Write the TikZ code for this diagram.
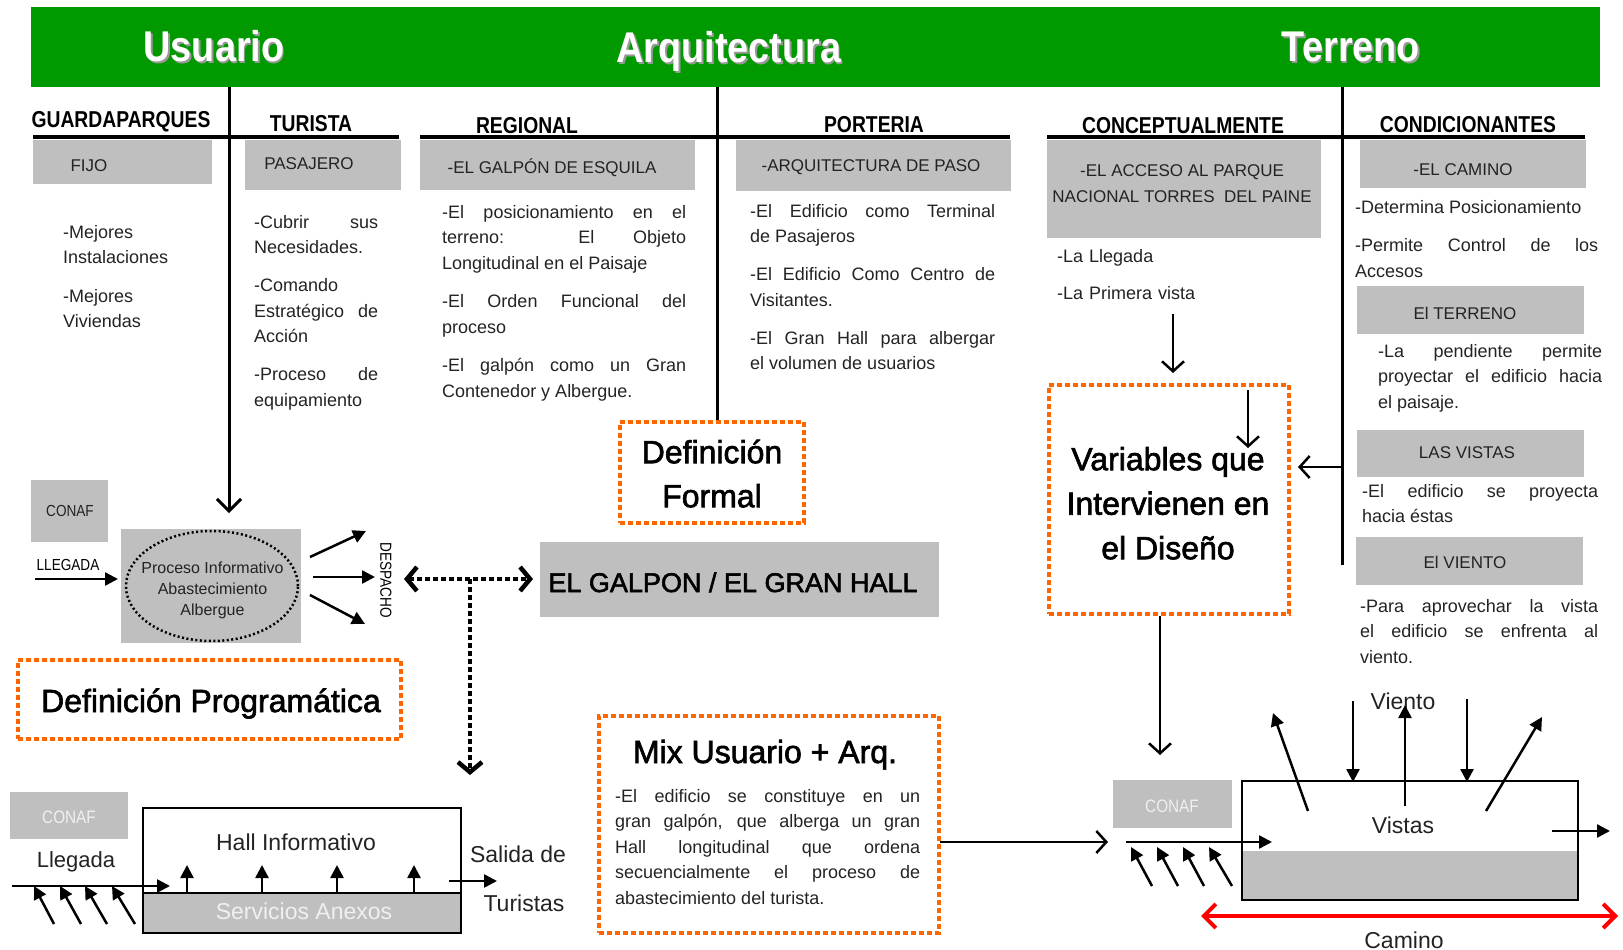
\documentclass[tikz,border=0pt]{standalone}
\usepackage{fontspec}
\setmainfont{Liberation Sans}
\newfontfamily\titlef{Liberation Sans}[FakeStretch=0.88]
\newfontfamily\headf{Liberation Sans}[FakeStretch=0.84]
\newfontfamily\narrowf{Liberation Sans}[FakeStretch=0.85]
\newfontfamily\bigf{Liberation Sans}[FakeBold=2]
\usetikzlibrary{arrows.meta,shapes.geometric}
\definecolor{greenbar}{RGB}{0,153,0}
\definecolor{boxgray}{RGB}{191,191,191}
\definecolor{orng}{RGB}{255,102,0}
\definecolor{txt}{RGB}{35,35,35}
\definecolor{lighttxt}{RGB}{240,240,240}
\definecolor{redc}{RGB}{255,0,0}
\newcommand\fsz[2]{\fontsize{#1}{#2}\selectfont}
\begin{document}
\begin{tikzpicture}[x=1pt,y=-1pt,
  gbox/.style={fill=boxgray,draw=none,inner sep=0pt,outer sep=0pt},
  obox/.style={draw=orng,line width=4pt,dash pattern=on 5pt off 3pt,inner sep=0pt},
  lbl/.style={inner sep=0pt,anchor=base,text=txt,font=\fsz{17}{20}},
  ttl/.style={inner sep=0pt,anchor=base,font=\titlef\bfseries\fsz{43}{46}},
  head/.style={inner sep=0pt,anchor=base,font=\headf\bfseries\fsz{23}{26}},
  body/.style={inner sep=0pt,anchor=north west,text=txt,font=\fsz{18}{25.5},align=justify},
  big/.style={inner sep=0pt,font=\bigf\fsz{32}{44},align=center},
  divline/.style={line width=3pt},
  uline/.style={line width=4pt},
  varrow/.style={line width=2.5pt,-{Straight Barb[length=10pt,width=22pt]}},
  farrow/.style={line width=2.5pt,-{Triangle[length=13pt,width=13pt]}},
  dotline/.style={line width=4.5pt,dash pattern=on 5pt off 3pt},
]
\useasboundingbox (0,0) rectangle (1623,950);

% ---------- green title bar ----------
\node[fill=greenbar,minimum width=1569pt,minimum height=80pt,inner sep=0pt] (bar) at (815.5,47) {};
\node[ttl,text=black!40] (tusuS) at (215.5,63.5) {Usuario};
\node[ttl,text=white] (tusu) at (214,62) {Usuario};
\node[ttl,text=black!40] (tarqS) at (730.5,64.5) {Arquitectura};
\node[ttl,text=white] (tarq) at (729,63) {Arquitectura};
\node[ttl,text=black!40] (tterS) at (1352.5,63.5) {Terreno};
\node[ttl,text=white] (tter) at (1351,62) {Terreno};

% ---------- headers ----------
\node[head] (hguard) at (121,128) {GUARDAPARQUES};
\node[head] (htur) at (311,131) {TURISTA};
\node[head] (hreg) at (527,133) {REGIONAL};
\node[head] (hport) at (874,132) {PORTERIA};
\node[head] (hconc) at (1183,133) {CONCEPTUALMENTE};
\node[head] (hcond) at (1468,132) {CONDICIONANTES};

\coordinate (u1a) at (33,137);  \coordinate (u1b) at (399,137);
\coordinate (u2a) at (420,137); \coordinate (u2b) at (1010,137);
\coordinate (u3a) at (1047,137);\coordinate (u3b) at (1585,137);
\draw[uline] (u1a) -- (u1b);
\draw[uline] (u2a) -- (u2b);
\draw[uline] (u3a) -- (u3b);

% ---------- gray boxes ----------
\node[gbox,minimum width=179pt,minimum height=44pt] (bfijo) at (122.5,162) {};
\node[gbox,minimum width=156pt,minimum height=50pt] (bpas) at (323,165) {};
\node[gbox,minimum width=275pt,minimum height=50pt] (bgal) at (557.5,165) {};
\node[gbox,minimum width=275pt,minimum height=51pt] (barqp) at (873.5,165.5) {};
\node[gbox,minimum width=274pt,minimum height=98pt] (bacc) at (1184,189) {};
\node[gbox,minimum width=226pt,minimum height=48pt] (bcam) at (1473,164) {};
\node[gbox,minimum width=227pt,minimum height=48pt] (bter) at (1470.5,310) {};
\node[gbox,minimum width=227pt,minimum height=47pt] (bvis) at (1470.5,453.5) {};
\node[gbox,minimum width=227pt,minimum height=48pt] (bvie) at (1469.5,561) {};

\node[lbl] (lfijo) at (89,171) {FIJO};
\node[lbl] (lpas) at (309,169) {PASAJERO};
\node[lbl] (lgal) at (552,173) {-EL GALPÓN DE ESQUILA};
\node[lbl] (larq) at (871,171) {-ARQUITECTURA DE PASO};
\node[lbl] (lacc1) at (1182,176) {-EL ACCESO AL PARQUE};
\node[lbl] (lacc2) at (1182,202) {NACIONAL TORRES~~DEL PAINE};
\node[lbl] (lcam) at (1463,175) {-EL CAMINO};
\node[lbl] (lter) at (1465,319) {El TERRENO};
\node[lbl] (lvis) at (1467,458) {LAS VISTAS};
\node[lbl] (lvie) at (1465,568) {El VIENTO};

% ---------- body texts ----------
\node[body,align=left,text width=150pt] (tguard) at (63,220.15)
  {\strut-Mejores\\Instalaciones\\[13pt]-Mejores\\Viviendas};
\node[body,text width=124pt] (ttur) at (254,210.15)
  {\strut-Cubrir sus\linebreak Necesidades.\\[12.5pt]-Comando\\Estratégico de\linebreak Acción\\[12.5pt]-Proceso de\linebreak equipamiento};
\node[body,text width=244pt] (treg) at (442,200.15)
  {\strut-El posicionamiento en el\linebreak terreno: El Objeto\linebreak Longitudinal en el Paisaje\\[13pt]-El Orden Funcional del\linebreak proceso\\[13pt]-El galpón como un Gran\linebreak Contenedor y Albergue.};
\node[body,text width=245pt] (tport) at (750,199.15)
  {\strut-El Edificio como Terminal\linebreak de Pasajeros\\[12.5pt]-El Edificio Como Centro de\linebreak Visitantes.\\[12.5pt]-El Gran Hall para albergar\linebreak el volumen de usuarios};
\node[body,align=left,text width=250pt] (tconc) at (1057,244.15)
  {\strut-La Llegada\\[11.5pt]-La Primera vista};
\node[body,text width=243pt] (tcond1) at (1355,195.15)
  {\strut-Determina Posicionamiento\\[13pt]-Permite Control de los\linebreak Accesos};
\node[body,text width=224pt] (tcond2) at (1378,339.15)
  {\strut-La pendiente permite\linebreak proyectar el edificio hacia\linebreak el paisaje.};
\node[body,text width=236pt] (tcond3) at (1362,479.15)
  {\strut-El edificio se proyecta\linebreak hacia éstas};
\node[body,text width=238pt] (tcond4) at (1360,594.15)
  {\strut-Para aprovechar la vista\linebreak el edificio se enfrenta al\linebreak viento.};

% ---------- dividers ----------
\coordinate (d1a) at (229,87);  \coordinate (d1b) at (229,513);
\coordinate (d2a) at (717,87);  \coordinate (d2b) at (717,422);
\coordinate (d3a) at (1342,87); \coordinate (d3b) at (1342,565);
\draw[divline,-{Straight Barb[length=12pt,width=24pt]}] (d1a) -- (d1b);
\draw[divline] (d2a) -- (d2b);
\draw[divline] (d3a) -- (d3b);

% ---------- orange boxes ----------
\node[obox,minimum width=184pt,minimum height=101pt] (bdefF) at (712,472.5) {};
\node[big,anchor=north] (tdefF) at (712,432.2) {\strut Definición\\Formal};
\node[obox,minimum width=240pt,minimum height=229pt] (bvar) at (1169,499.5) {};
\node[big,anchor=north,font=\bigf\fsz{32}{44.5}] (tvar) at (1168,438.85) {\strut Variables que\\Intervienen en\\el Diseño};
\node[obox,minimum width=383pt,minimum height=79pt] (bdefP) at (209.5,699.5) {};
\node[big,anchor=base] (tdefP) at (211,712) {Definición Programática};
\node[obox,minimum width=340pt,minimum height=217pt] (bmix) at (769,824.5) {};
\node[big,anchor=base] (tmix) at (765,763) {Mix Usuario + Arq.};
\node[body,text width=305pt] (tmixb) at (615,784.15)
  {\strut-El edificio se constituye en un\linebreak gran galpón, que alberga un gran\linebreak Hall longitudinal que ordena\linebreak secuencialmente el proceso de\linebreak abastecimiento del turista.};

% ---------- process area ----------
\node[gbox,minimum width=77pt,minimum height=62pt] (bconaf1) at (69.5,511) {};
\node[inner sep=0pt,anchor=base,font=\narrowf\fsz{16}{19},text=txt] (lconaf1) at (70,516) {CONAF};
\node[inner sep=0pt,anchor=base,font=\narrowf\fsz{16}{19},text=black] (lllegada) at (68,570) {LLEGADA};
\coordinate (lla) at (35,579); \coordinate (llb) at (118,579);
\draw[farrow] (lla) -- (llb);

\node[gbox,minimum width=180pt,minimum height=114pt] (bproc) at (211,586) {};
\node[ellipse,draw,line width=2.5pt,dash pattern=on 2pt off 2.5pt,minimum width=172pt,minimum height=110pt,inner sep=0pt] (ell) at (212,586) {};
\node[inner sep=0pt,anchor=north,align=center,text=txt,font=\fsz{16}{21}] (tproc) at (212.5,558.3)
  {\strut Proceso Informativo\\Abastecimiento\\Albergue};

\coordinate (p1a) at (310,557); \coordinate (p1b) at (366,531);
\coordinate (p2a) at (313,577); \coordinate (p2b) at (375,577);
\coordinate (p3a) at (310,595); \coordinate (p3b) at (365,624);
\draw[farrow] (p1a) -- (p1b);
\draw[farrow] (p2a) -- (p2b);
\draw[farrow] (p3a) -- (p3b);
\node[inner sep=0pt,rotate=-90,font=\narrowf\fsz{16}{19},text=black] (desp) at (386,580) {DESPACHO};

\node[gbox,minimum width=399pt,minimum height=75pt] (bhallG) at (739.5,579.5) {};
\node[inner sep=0pt,anchor=base,font=\bigf\fsz{27}{30}] (thallG) at (733,592) {EL GALPON / EL GRAN HALL};

\coordinate (da) at (404,579); \coordinate (db) at (533,579);
\coordinate (dc) at (470,579); \coordinate (dd) at (470,775);
\draw[dotline,{Straight Barb[length=10pt,width=24pt]}-{Straight Barb[length=10pt,width=24pt]}] (da) -- (db);
\draw[dotline,-{Straight Barb[length=10pt,width=24pt]}] (dc) -- (dd);

% ---------- hall diagram (bottom left) ----------
\node[gbox,minimum width=118pt,minimum height=47pt] (bconaf2) at (69,815.5) {};
\node[inner sep=0pt,anchor=base,font=\narrowf\fsz{18}{21},text=lighttxt] (lconaf2) at (69,823) {CONAF};
\node[inner sep=0pt,anchor=base,font=\fsz{22}{25},text=txt] (lllegada2) at (76,867) {Llegada};
\node[draw,line width=2.5pt,minimum width=318pt,minimum height=125pt,inner sep=0pt] (hall) at (302,870.5) {};
\draw[line width=2.5pt,fill=boxgray] (143,893) rectangle (461,933);
\node[inner sep=0pt,anchor=base,font=\fsz{23}{26},text=txt] (thall) at (296,850) {Hall Informativo};
\node[inner sep=0pt,anchor=base,font=\fsz{23}{26},text=lighttxt] (tserv) at (304,919) {Servicios Anexos};
\coordinate (ha) at (12,886); \coordinate (hb) at (170,886);
\draw[farrow] (ha) -- (hb);
\foreach \tx/\hx in {54/34,81/60,107/85,135/112}
  \draw[farrow] (\tx,924) -- (\hx,886);
\foreach \ux in {187,262,337,414}
  \draw[farrow] (\ux,892) -- (\ux,865);
\coordinate (ea) at (449,881); \coordinate (eb) at (497,881);
\draw[farrow] (ea) -- (eb);
\node[inner sep=0pt,anchor=base,font=\fsz{23}{26},text=txt] (tsal) at (518,862) {Salida de};
\node[inner sep=0pt,anchor=base,font=\fsz{23}{26},text=txt] (ttur2) at (524,911) {Turistas};

% ---------- right side arrows ----------
\coordinate (ca) at (1173,314); \coordinate (cb) at (1173,373);
\draw[varrow] (ca) -- (cb);
\coordinate (va) at (1248,390); \coordinate (vb) at (1248,448);
\draw[varrow] (va) -- (vb);
\coordinate (ra) at (1342,467); \coordinate (rb) at (1298,467);
\draw[varrow] (ra) -- (rb);
\coordinate (wa) at (1160,616); \coordinate (wb) at (1160,755);
\draw[varrow] (wa) -- (wb);
\coordinate (ma) at (940,842); \coordinate (mb) at (1108,842);
\draw[varrow] (ma) -- (mb);

% ---------- building diagram (bottom right) ----------
\node[gbox,minimum width=119pt,minimum height=48pt] (bconaf3) at (1172.5,804) {};
\node[inner sep=0pt,anchor=base,font=\narrowf\fsz{18}{21},text=lighttxt] (lconaf3) at (1172,812) {CONAF};
\fill[boxgray] (1242,851) rectangle (1578,900);
\node[draw,line width=2.5pt,minimum width=336pt,minimum height=119pt,inner sep=0pt] (bldg) at (1410,840.5) {};
\coordinate (ga) at (1126,842); \coordinate (gb) at (1272,842);
\draw[farrow] (ga) -- (gb);
\foreach \tx/\hx in {1152/1131,1178/1157,1204/1183,1232/1209}
  \draw[farrow] (\tx,886) -- (\hx,847);
\node[inner sep=0pt,anchor=base,font=\fsz{23}{26},text=txt] (tvistas) at (1403,833) {Vistas};
\node[inner sep=0pt,anchor=base,font=\fsz{23}{26},text=txt] (tviento) at (1403,709) {Viento};
\draw[farrow] (1308,811) -- (1273,713);
\draw[farrow] (1353,701) -- (1353,782);
\draw[farrow] (1405,806) -- (1405,705);
\draw[farrow] (1467,699) -- (1467,782);
\draw[farrow] (1486,811) -- (1542,717);
\draw[farrow] (1552,831) -- (1610,831);
\coordinate (cma) at (1201,916); \coordinate (cmb) at (1618,916);
\draw[redc,line width=4pt,{Straight Barb[length=12pt,width=24pt]}-{Straight Barb[length=12pt,width=24pt]}] (cma) -- (cmb);
\node[inner sep=0pt,anchor=base,font=\fsz{23}{26},text=txt] (tcamino) at (1404,948) {Camino};
\end{tikzpicture}
\end{document}
